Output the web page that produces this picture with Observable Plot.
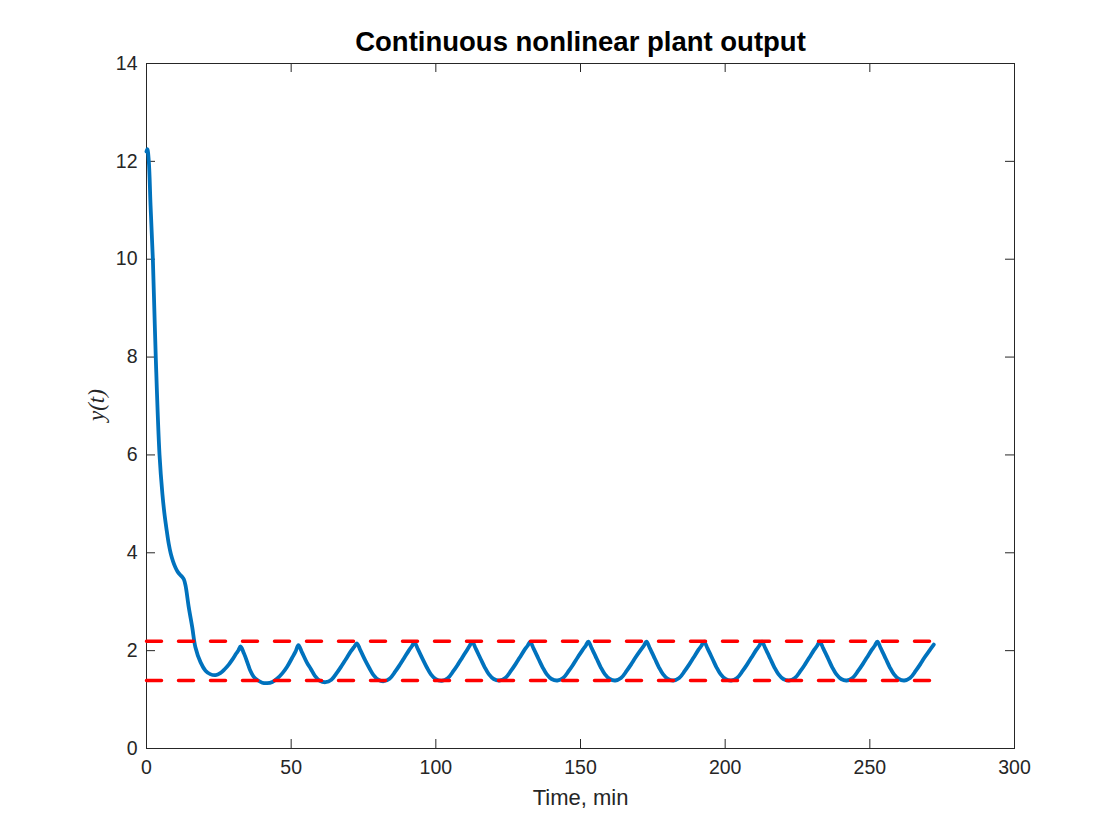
<!DOCTYPE html>
<html>
<head>
<meta charset="utf-8">
<script src="https://cdn.jsdelivr.net/npm/d3@7"></script>
<script src="https://cdn.jsdelivr.net/npm/@observablehq/plot@0.6"></script>
<style>
  html, body { margin: 0; padding: 0; background: white; }
</style>
</head>
<body>
<div id="chart"></div>
<script>
const chartTitle = "Continuous nonlinear plant output";
const xLabel = "Time, min";
const yLabel = "y(t)";
const xTicks = [0, 50, 100, 150, 200, 250, 300];
const yTicks = [0, 2, 4, 6, 8, 10, 12, 14];
const upperBound = 2.19;
const lowerBound = 1.39;

// Time (min) and plant output y(t)
const time = [
  0, 0.3, 0.8, 1.4, 2.2, 3.2, 4.5, 5.5, 6.3, 7.0, 7.7, 8.4, 9.2, 10.0, 10.8, 11.6, 12.3, 12.9, 13.5, 14.6, 15.8, 16.9,
  18.7, 20.4, 22.0, 23.9, 25.5, 27.0, 28.5, 29.6, 31.0, 31.8, 32.5,
  33.7, 35.2, 35.9, 37.0, 38.3, 40.0, 41.7, 43.5, 45.2, 47.0, 48.6, 50.3, 51.5, 52.5,
  53.7, 55.4, 56.8, 58.2, 59.9, 61.9, 63.9, 65.9, 67.4, 68.9, 70.6, 71.7, 72.7,
  73.9, 75.6, 77.0, 78.4, 80.1, 82.0, 84.0, 86.0, 87.5, 89.0, 90.7, 91.7, 92.6,
  93.8, 95.5, 96.9, 98.3, 100.0, 102.1, 104.1, 106.1, 107.6, 109.1, 110.8, 111.7, 112.6,
  113.8, 115.5, 116.9, 118.3, 120.0, 122.0, 124.0, 126.0, 127.5, 129.0, 130.7, 131.7, 132.6,
  133.8, 135.5, 136.9, 138.3, 140.0, 142.0, 144.0, 146.0, 147.5, 149.0, 150.8, 151.8, 152.7,
  153.9, 155.6, 157.0, 158.4, 160.1, 162.0, 164.0, 166.0, 167.5, 169.0, 170.9, 171.9, 172.8,
  174.0, 175.7, 177.1, 178.5, 180.2, 182.1, 184.1, 186.1, 187.6, 189.1, 190.8, 191.8, 192.7,
  193.9, 195.6, 197.0, 198.4, 200.1, 202.1, 204.1, 206.1, 207.6, 209.1, 210.8, 211.8, 212.7,
  213.9, 215.6, 217.0, 218.4, 220.1, 222.1, 224.1, 226.1, 227.6, 229.1, 230.8, 231.8, 232.7,
  233.9, 235.6, 237.0, 238.4, 240.1, 242.0, 244.0, 246.0, 247.5, 249.0, 250.7, 251.7, 252.6,
  253.8, 255.5, 256.9, 258.3, 260.0, 261.9, 263.9, 265.9, 267.4, 268.9, 270.6, 272.1
];
const output = [
  12.2, 12.25, 12.0, 11.1, 10.0, 8.0, 6.0, 5.2, 4.75, 4.45, 4.18, 3.98, 3.82, 3.7, 3.61, 3.55, 3.51, 3.46, 3.33, 2.89, 2.48, 2.07,
  1.76, 1.59, 1.52, 1.5, 1.54, 1.62, 1.72, 1.81, 1.94, 2.01, 2.085,
  1.94, 1.70, 1.59, 1.47, 1.40, 1.345, 1.335, 1.36, 1.43, 1.54, 1.67, 1.85, 1.98, 2.11,
  1.97, 1.76, 1.625, 1.485, 1.385, 1.355, 1.405, 1.555, 1.685, 1.825, 1.985, 2.07, 2.15,
  2.01, 1.80, 1.645, 1.505, 1.405, 1.375, 1.425, 1.575, 1.705, 1.845, 2.005, 2.09, 2.17,
  2.03, 1.82, 1.655, 1.515, 1.415, 1.385, 1.435, 1.585, 1.715, 1.855, 2.015, 2.10, 2.18,
  2.04, 1.83, 1.66, 1.52, 1.42, 1.39, 1.44, 1.59, 1.72, 1.86, 2.02, 2.10, 2.18,
  2.04, 1.83, 1.66, 1.52, 1.42, 1.39, 1.44, 1.59, 1.72, 1.86, 2.02, 2.10, 2.185,
  2.045, 1.835, 1.66, 1.52, 1.42, 1.39, 1.44, 1.59, 1.72, 1.86, 2.02, 2.10, 2.185,
  2.045, 1.835, 1.66, 1.52, 1.42, 1.39, 1.44, 1.59, 1.72, 1.86, 2.02, 2.10, 2.185,
  2.045, 1.835, 1.66, 1.52, 1.42, 1.39, 1.44, 1.59, 1.72, 1.86, 2.02, 2.10, 2.185,
  2.045, 1.835, 1.66, 1.52, 1.42, 1.39, 1.44, 1.59, 1.72, 1.86, 2.02, 2.10, 2.185,
  2.045, 1.835, 1.66, 1.52, 1.42, 1.39, 1.44, 1.59, 1.72, 1.86, 2.02, 2.10, 2.185,
  2.045, 1.835, 1.66, 1.52, 1.42, 1.39, 1.44, 1.59, 1.72, 1.86, 2.00, 2.125
];

const series = time.map((t, i) => ({t, y: output[i]}));
const tEnd = time[time.length - 1];
const bounds = [upperBound, lowerBound].flatMap((b, k) => [
  {t: time[0], y: b, k},
  {t: tEnd, y: b, k}
]);

const W = 1120, H = 840;
const mT = 63, mB = 92, mL = 146, mR = 106;
const fw = W - mL - mR, fh = H - mT - mB;
const tick = 9;
const ink = "#262626";

const chart = Plot.plot({
  width: W,
  height: H,
  marginTop: mT,
  marginBottom: mB,
  marginLeft: mL,
  marginRight: mR,
  x: {domain: [0, 300], ticks: xTicks},
  y: {domain: [0, 14], ticks: yTicks},
  style: {
    fontFamily: "'Liberation Sans', Arial, Helvetica, sans-serif",
    fontSize: "19px",
    color: ink,
    background: "white"
  },
  marks: [
    Plot.frame({stroke: ink, strokeWidth: 1}),
    Plot.tickX(xTicks, {x: d => d, insetTop: fh - tick, stroke: ink}),
    Plot.tickX(xTicks, {x: d => d, insetBottom: fh - tick, stroke: ink}),
    Plot.tickY(yTicks, {y: d => d, insetRight: fw - tick, stroke: ink}),
    Plot.tickY(yTicks, {y: d => d, insetLeft: fw - tick, stroke: ink}),
    Plot.axisX({ticks: xTicks, tickSize: 0, tickPadding: 12, label: null, fontSize: 19.5}),
    Plot.axisY({ticks: yTicks, tickSize: 0, tickPadding: 9, label: null, fontSize: 19.5}),
    Plot.line(series, {x: "t", y: "y", stroke: "#0072BD", strokeWidth: 3.8, curve: "catmull-rom"}),
    Plot.line(bounds, {x: "t", y: "y", z: "k", stroke: "#FF0000", strokeWidth: 3.5, strokeDasharray: "15,17"}),
    Plot.text([chartTitle], {frameAnchor: "top", dy: -21, lineAnchor: "middle", fontWeight: "bold", fontSize: 27.5, fill: "black"}),
    Plot.text([xLabel], {frameAnchor: "bottom", dy: 49, lineAnchor: "middle", fontSize: 22, fill: ink}),
    Plot.text([yLabel], {frameAnchor: "left", dx: -50, dy: 15, rotate: -90, lineAnchor: "middle", fontStyle: "italic", fontFamily: "'Liberation Serif', 'DejaVu Serif', serif", fontSize: 23, fill: ink})
  ]
});

document.getElementById("chart").appendChild(chart);
</script>
</body>
</html>
